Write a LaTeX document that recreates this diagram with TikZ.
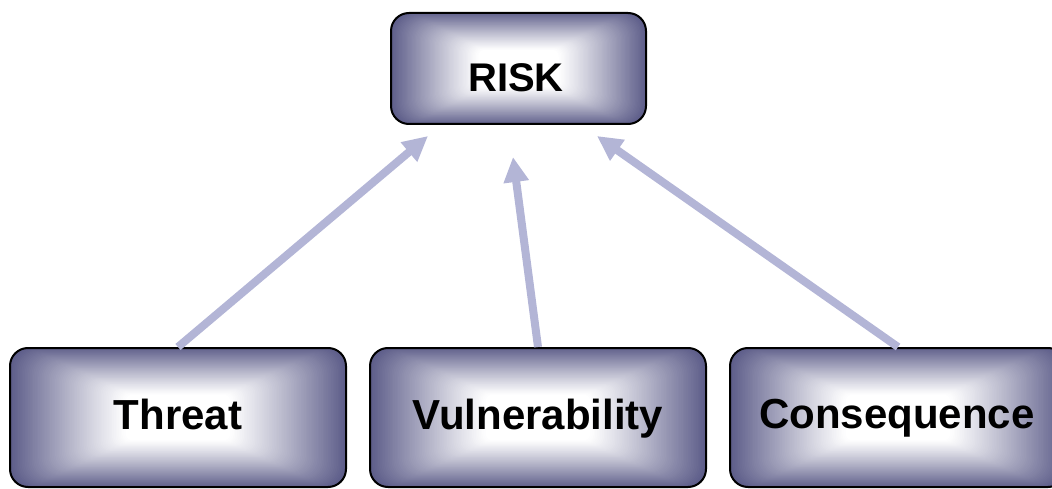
\documentclass[tikz,border=0pt]{standalone}
\usepackage{fontspec}
\setmainfont{Liberation Sans}
\usetikzlibrary{arrows.meta}
\definecolor{boxdark}{RGB}{90,90,135}
\definecolor{arrowcol}{RGB}{179,181,214}
\tikzset{
  gbox/.style 2 args={
    draw=black, line width=2pt, rounded corners=18pt,
    minimum width=#1pt, minimum height=#2pt, inner sep=0pt,
    path picture={
      \foreach \k in {0,...,70}{
        \pgfmathsetmacro\s{1-0.7*\k/70}
        \pgfmathsetmacro\f{100*(1-\k/70)^1.1}
        \pgfmathsetmacro\a{\s*#1/2+2}
        \pgfmathsetmacro\b{\s*#2/2+2}
        \pgfmathsetmacro\r{\s*22}
        \fill[boxdark!\f!white, rounded corners=\r pt,
              shift={(path picture bounding box.center)}]
          (-\a,-\b) rectangle (\a,\b);
      }
    }
  },
  boxtext/.style={anchor=base, font=\bfseries\fontsize{42}{48}\selectfont, text=black, inner sep=0pt},
  conn/.style={draw=arrowcol, line width=8pt, -{Triangle[length=25pt,width=24pt]}}
}
\begin{document}
\begin{tikzpicture}[x=1pt,y=-1pt]
\useasboundingbox (0,0) rectangle (1052,489);
\node[gbox={255}{111}] (risk) at (518.5,68.5) {};
\node[gbox={336}{139}] (threat) at (178,417.5) {};
\node[gbox={336}{139}] (vuln) at (538,417.5) {};
\node[gbox={336}{139}] (cons) at (898,417.5) {};
\node[boxtext, font=\bfseries\fontsize{40}{46}\selectfont] (risktext) at (516,92) {RISK};
\node[boxtext] (threattext) at (178,429) {Threat};
\node[boxtext] (vulntext) at (538,429) {Vulnerability};
\node[boxtext] (constext) at (897,428) {Consequence};
\coordinate (tipA) at (428,136);
\coordinate (tipB) at (513,157);
\coordinate (tipC) at (597,136);
\draw[conn] (threat.north) -- (tipA);
\draw[conn] (vuln.north) -- (tipB);
\draw[conn] (cons.north) -- (tipC);
\end{tikzpicture}
\end{document}
